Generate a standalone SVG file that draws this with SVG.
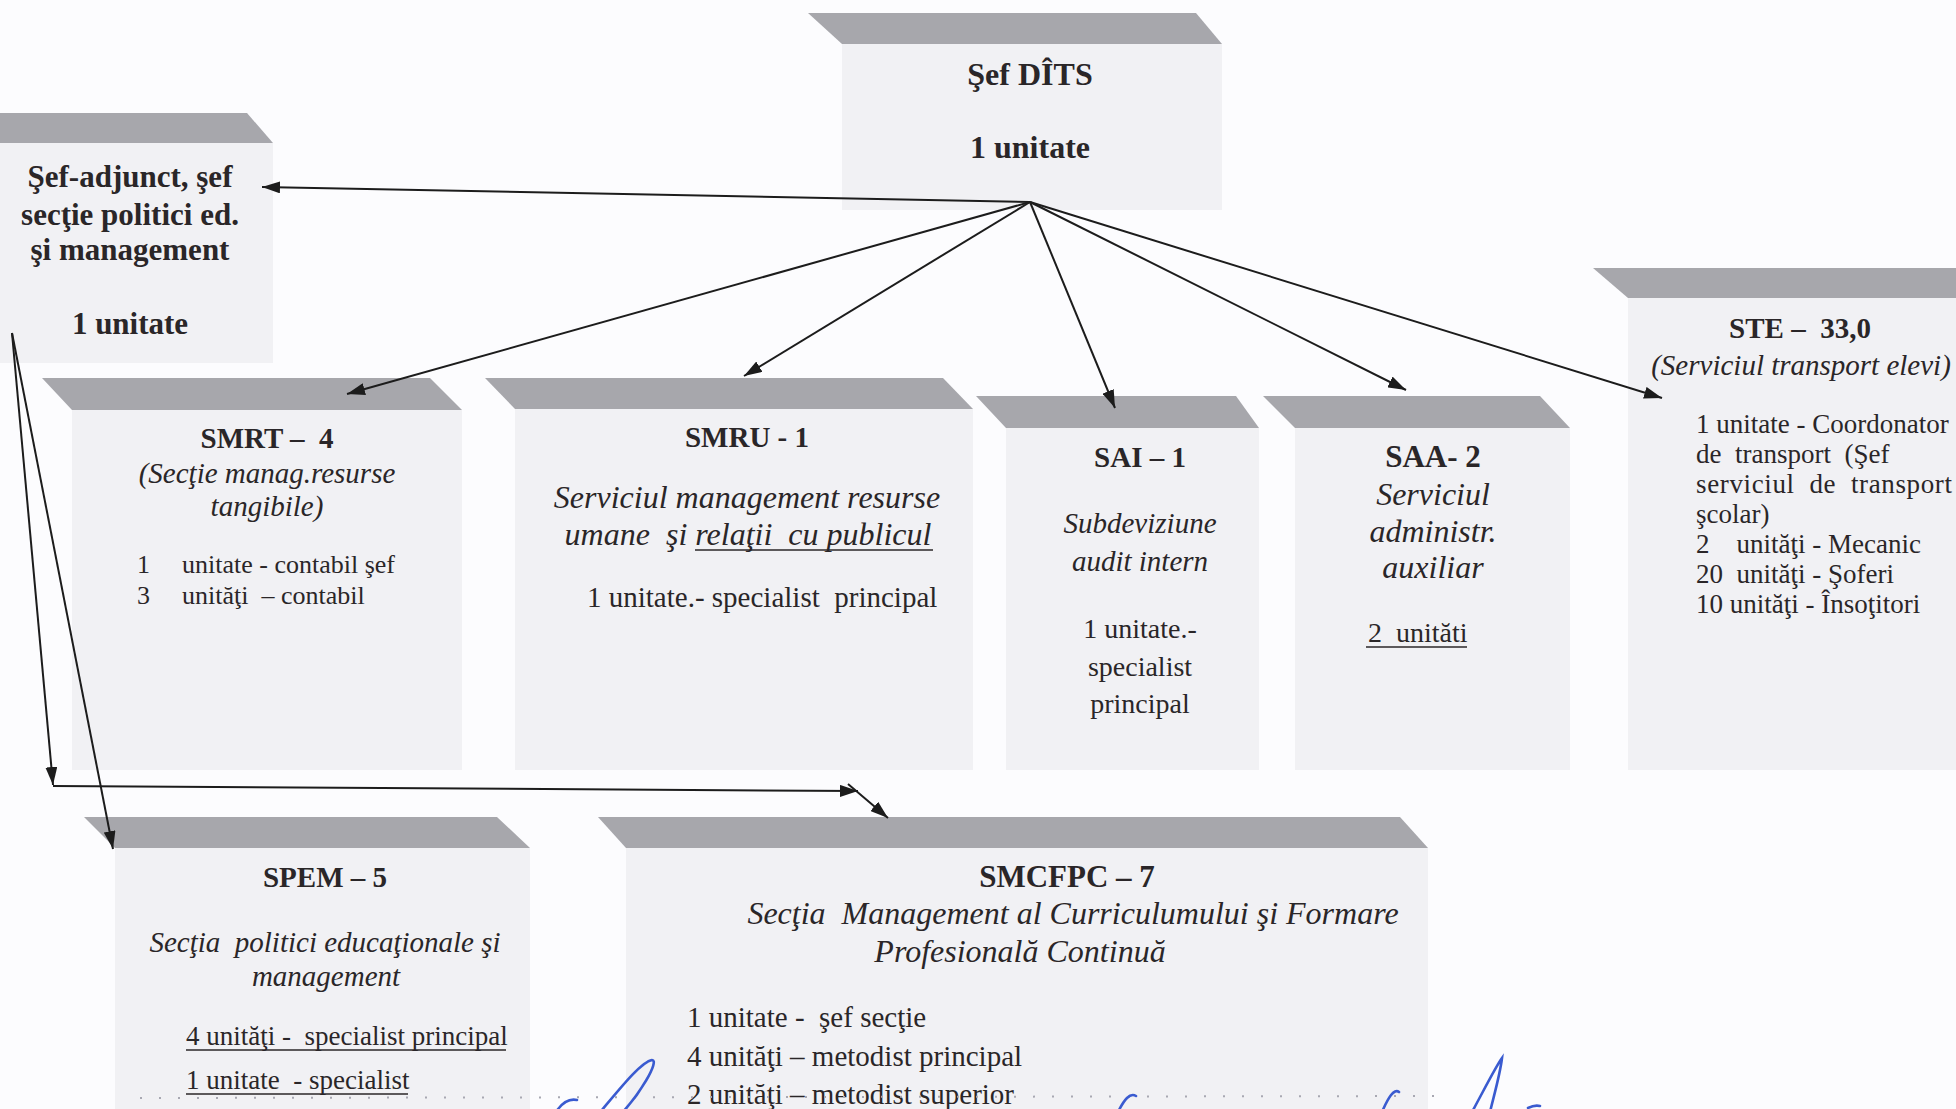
<svg xmlns="http://www.w3.org/2000/svg" width="1956" height="1109" viewBox="0 0 1956 1109">
<style>
text{font-family:"Liberation Serif","Times New Roman",serif;fill:#2a2628;white-space:pre}
.b{font-weight:bold}
.i{font-style:italic}
.m{text-anchor:middle}
.band{fill:#a7a7ac}
.body{fill:#f1f1f4}
.con{stroke:#1c1c1c;stroke-width:2;fill:none}
.ul{stroke:#2a2628;stroke-width:1.6}
.sig{stroke:#3a5bd0;stroke-width:2.6;fill:none;stroke-linecap:round}
</style>
<defs>
<marker id="ah" viewBox="0 0 18 12" refX="18" refY="6" markerWidth="18" markerHeight="12" markerUnits="userSpaceOnUse" orient="auto"><path d="M0,0 L18,6 L0,12 z" fill="#1c1c1c"/></marker>
</defs>
<rect width="1956" height="1109" fill="#fcfcfe"/>

<g id="node-sef-dits">
<rect class="body" x="842" y="44" width="380" height="166"/>
<polygon class="band" points="808,13 1196,13 1222,44 842,44"/>
<text class="b m" x="1030" y="85" font-size="32">Şef DÎTS</text>
<text class="b m" x="1030" y="158" font-size="32">1 unitate</text>
</g>

<g id="node-sef-adjunct">
<rect class="body" x="0" y="143" width="273" height="220"/>
<polygon class="band" points="0,113 247,113 273,143 0,143"/>
<text class="b m" x="130" y="187" font-size="31">Şef-adjunct, şef</text>
<text class="b m" x="130" y="225" font-size="31">secţie politici ed.</text>
<text class="b m" x="130" y="260" font-size="31">şi management</text>
<text class="b m" x="130" y="334" font-size="31">1 unitate</text>
</g>

<g id="node-smrt">
<rect class="body" x="72" y="410" width="390" height="360"/>
<polygon class="band" points="42,378 430,378 462,410 72,410"/>
<text class="b m" x="267" y="448" font-size="29">SMRT –  4</text>
<text class="i m" x="267" y="483" font-size="29">(Secţie manag.resurse</text>
<text class="i m" x="267" y="516" font-size="29">tangibile)</text>
<text x="137" y="573" font-size="26">1</text>
<text x="182" y="573" font-size="26">unitate - contabil şef</text>
<text x="137" y="604" font-size="26">3</text>
<text x="182" y="604" font-size="26">unităţi  – contabil</text>
</g>

<g id="node-smru">
<rect class="body" x="515" y="409" width="458" height="361"/>
<polygon class="band" points="485,378 943,378 973,409 515,409"/>
<text class="b m" x="747" y="447" font-size="29">SMRU - 1</text>
<text class="i m" x="747" y="508" font-size="32">Serviciul management resurse</text>
<text class="i m" x="748" y="545" font-size="32">umane  şi relaţii  cu publicul</text>
<line class="ul" x1="695" y1="550" x2="933" y2="550"/>
<text x="587" y="607" font-size="29">1 unitate.- specialist  principal</text>
</g>

<g id="node-sai">
<rect class="body" x="1006" y="428" width="253" height="342"/>
<polygon class="band" points="976,396 1236,396 1259,428 1006,428"/>
<text class="b m" x="1140" y="467" font-size="29">SAI – 1</text>
<text class="i m" x="1140" y="533" font-size="29">Subdeviziune</text>
<text class="i m" x="1140" y="571" font-size="29">audit intern</text>
<text class="m" x="1140" y="638" font-size="28">1 unitate.-</text>
<text class="m" x="1140" y="676" font-size="28">specialist</text>
<text class="m" x="1140" y="713" font-size="28">principal</text>
</g>

<g id="node-saa">
<rect class="body" x="1295" y="428" width="275" height="342"/>
<polygon class="band" points="1263,396 1540,396 1570,428 1295,428"/>
<text class="b m" x="1433" y="467" font-size="31">SAA- 2</text>
<text class="i m" x="1433" y="505" font-size="32">Serviciul</text>
<text class="i m" x="1433" y="542" font-size="32">administr.</text>
<text class="i m" x="1433" y="578" font-size="32">auxiliar</text>
<text x="1368" y="642" font-size="28">2  unităti</text>
<line class="ul" x1="1366" y1="647" x2="1467" y2="647"/>
</g>

<g id="node-ste">
<rect class="body" x="1628" y="298" width="328" height="472"/>
<polygon class="band" points="1593,268 1956,268 1956,298 1628,298"/>
<text class="b m" x="1800" y="338" font-size="29">STE –  33,0</text>
<text class="i m" x="1801" y="375" font-size="29">(Serviciul transport elevi)</text>
<text x="1696" y="433" font-size="27">1 unitate - Coordonator</text>
<text x="1696" y="463" font-size="27">de  transport  (Şef</text>
<text x="1696" y="493" font-size="27" textLength="256">serviciul  de  transport</text>
<text x="1696" y="523" font-size="27">şcolar)</text>
<text x="1696" y="553" font-size="27">2    unităţi - Mecanic</text>
<text x="1696" y="583" font-size="27">20  unităţi - Şoferi</text>
<text x="1696" y="613" font-size="27">10 unităţi - Însoţitori</text>
</g>

<g id="node-spem">
<rect class="body" x="115" y="848" width="415" height="261"/>
<polygon class="band" points="84,817 497,817 530,848 115,848"/>
<text class="b m" x="325" y="887" font-size="29">SPEM – 5</text>
<text class="i m" x="325" y="952" font-size="29">Secţia  politici educaţionale şi</text>
<text class="i m" x="326" y="986" font-size="29">management</text>
<text x="186" y="1045" font-size="27">4 unităţi -  specialist principal</text>
<line class="ul" x1="186" y1="1050" x2="506" y2="1050"/>
<text x="186" y="1089" font-size="27">1 unitate  - specialist</text>
<line class="ul" x1="186" y1="1094" x2="408" y2="1094"/>
</g>

<g id="node-smcfpc">
<rect class="body" x="626" y="848" width="802" height="261"/>
<polygon class="band" points="598,817 1400,817 1428,848 626,848"/>
<text class="b m" x="1067" y="887" font-size="31">SMCFPC – 7</text>
<text class="i m" x="1073" y="924" font-size="32">Secţia  Management al Curriculumului şi Formare</text>
<text class="i m" x="1020" y="962" font-size="32">Profesională Continuă</text>
<text x="687" y="1027" font-size="29">1 unitate -  şef secţie</text>
<text x="687" y="1066" font-size="29">4 unităţi – metodist principal</text>
<text x="687" y="1104" font-size="29">2 unităţi – metodist superior</text>
</g>

<g id="connectors">
<line class="con" x1="1030" y1="202" x2="262" y2="187" marker-end="url(#ah)"/>
<line class="con" x1="1030" y1="202" x2="347" y2="394" marker-end="url(#ah)"/>
<line class="con" x1="1030" y1="202" x2="744" y2="376" marker-end="url(#ah)"/>
<line class="con" x1="1030" y1="202" x2="1115" y2="408" marker-end="url(#ah)"/>
<line class="con" x1="1030" y1="202" x2="1406" y2="390" marker-end="url(#ah)"/>
<line class="con" x1="1030" y1="202" x2="1662" y2="398" marker-end="url(#ah)"/>
<line class="con" x1="12" y1="333" x2="53" y2="785" marker-end="url(#ah)"/>
<line class="con" x1="12" y1="333" x2="113" y2="849" marker-end="url(#ah)"/>
<line class="con" x1="53" y1="786" x2="858" y2="791" marker-end="url(#ah)"/>
<line class="con" x1="848" y1="784" x2="888" y2="818" marker-end="url(#ah)"/>
</g>

<line x1="140" y1="1098" x2="1440" y2="1096" stroke="#a8a8b2" stroke-width="2" stroke-dasharray="2 17"/>
<path class="sig" d="M553,1117 C560,1104 568,1098 577,1100"/>
<path class="sig" d="M596,1117 C615,1095 640,1062 652,1060 C660,1060 640,1095 618,1117"/>
<path class="sig" d="M1118,1112 C1124,1100 1130,1092 1136,1096"/>
<path class="sig" d="M1382,1112 C1388,1098 1394,1088 1399,1092"/>
<path class="sig" d="M1472,1112 C1484,1090 1496,1066 1502,1058 C1500,1075 1494,1095 1490,1112"/>
<path class="sig" d="M1528,1108 C1532,1106 1536,1105 1540,1106"/>
</svg>
